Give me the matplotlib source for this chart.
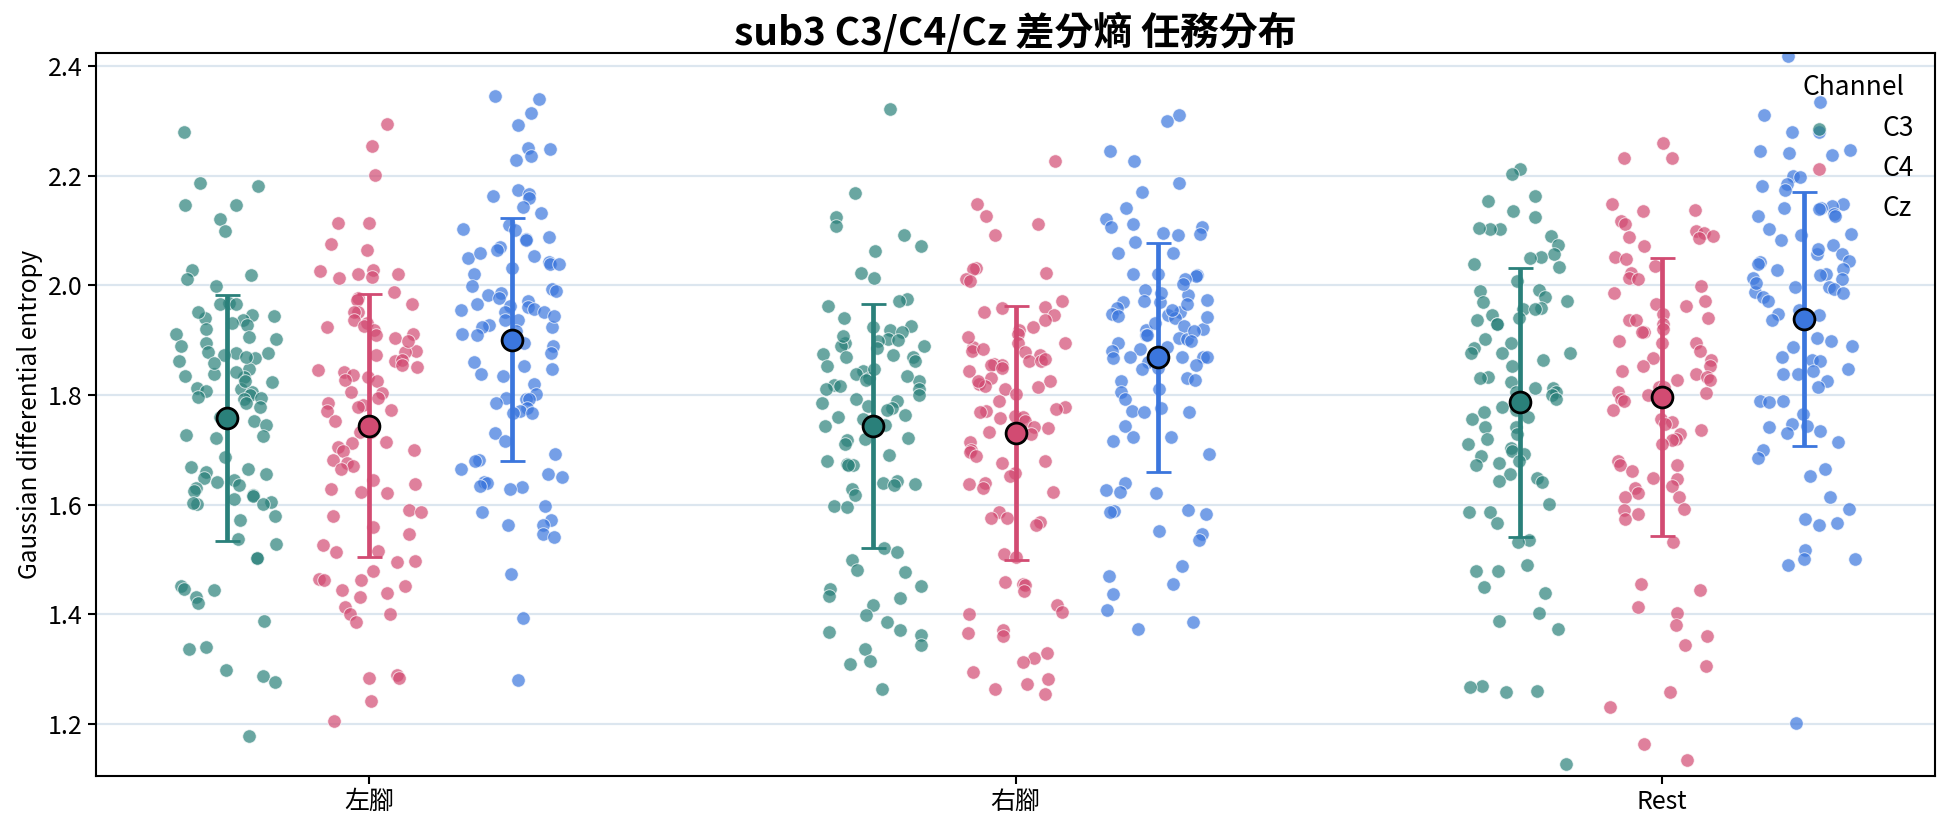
import numpy as np
import matplotlib.pyplot as plt

plt.rcParams['font.family'] = ['Noto Sans CJK TC', 'DejaVu Sans']

tasks = ['左腳', '右腳', 'Rest']
channels = ['C3', 'C4', 'Cz']
colors = {'C3': '#2a807a', 'C4': '#d24b72', 'Cz': '#3b76dd'}

# gaussian differential entropy per trial
left_c3 = [2.279, 2.187, 2.181, 2.146, 2.146, 2.120, 2.099, 2.028, 2.018, 2.011, 1.998, 1.967, 1.965, 1.965,
           1.946, 1.944, 1.940, 1.937, 1.927, 1.920, 1.912, 1.902, 1.895, 1.879, 1.877, 1.877, 1.873, 1.867,
           1.862, 1.848, 1.839, 1.835, 1.833, 1.823, 1.812, 1.810, 1.808, 1.806, 1.800, 1.797, 1.795, 1.793,
           1.785, 1.778, 1.760, 1.753, 1.745, 1.726, 1.725, 1.722, 1.686, 1.668, 1.664, 1.659, 1.655, 1.649,
           1.644, 1.641, 1.636, 1.630, 1.624, 1.618, 1.616, 1.611, 1.605, 1.601, 1.601, 1.603, 1.580, 1.572,
           1.538, 1.528, 1.503, 1.502, 1.452, 1.444, 1.446, 1.432, 1.421, 1.387, 1.337, 1.340, 1.298, 1.287,
           1.277, 1.177, 1.951, 1.932, 1.906, 1.889, 1.870, 1.858, 1.842, 1.826]
left_c4 = [2.294, 2.254, 2.202, 2.113, 2.113, 2.075, 2.064, 2.028, 2.021, 2.021, 2.026, 2.015, 2.013, 1.988,
           1.977, 1.973, 1.965, 1.952, 1.951, 1.936, 1.931, 1.923, 1.919, 1.912, 1.909, 1.904, 1.881, 1.879,
           1.862, 1.864, 1.854, 1.841, 1.833, 1.837, 1.828, 1.825, 1.806, 1.803, 1.795, 1.785, 1.781, 1.778,
           1.772, 1.771, 1.753, 1.733, 1.732, 1.714, 1.712, 1.705, 1.700, 1.697, 1.682, 1.676, 1.670, 1.664,
           1.644, 1.638, 1.628, 1.623, 1.622, 1.590, 1.587, 1.580, 1.559, 1.546, 1.527, 1.515, 1.513, 1.496,
           1.498, 1.479, 1.465, 1.463, 1.463, 1.452, 1.444, 1.438, 1.432, 1.413, 1.400, 1.400, 1.385, 1.290,
           1.283, 1.283, 1.241, 1.206, 1.926, 1.898, 1.872, 1.851, 1.846]
left_cz = [2.346, 2.339, 2.315, 2.293, 2.251, 2.249, 2.235, 2.228, 2.174, 2.166, 2.163, 2.160, 2.143, 2.131,
           2.110, 2.103, 2.100, 2.088, 2.085, 2.082, 2.069, 2.064, 2.053, 2.049, 2.043, 2.039, 2.038, 2.021,
           1.998, 1.994, 1.986, 1.982, 1.977, 1.971, 1.965, 1.962, 1.961, 1.956, 1.954, 1.952, 1.952, 1.936,
           1.936, 1.927, 1.923, 1.923, 1.917, 1.909, 1.895, 1.890, 1.877, 1.860, 1.852, 1.848, 1.839, 1.835,
           1.820, 1.802, 1.795, 1.792, 1.792, 1.785, 1.777, 1.770, 1.767, 1.767, 1.731, 1.716, 1.693, 1.682,
           1.680, 1.664, 1.655, 1.651, 1.641, 1.640, 1.634, 1.632, 1.628, 1.598, 1.586, 1.572, 1.563, 1.562,
           1.546, 1.540, 1.473, 1.394, 1.280, 2.058, 2.031, 1.990, 1.944, 1.912]
right_c3 = [2.322, 2.168, 2.124, 2.109, 2.092, 2.071, 2.063, 2.022, 2.013, 1.975, 1.971, 1.962, 1.940, 1.925,
            1.923, 1.919, 1.915, 1.902, 1.900, 1.898, 1.894, 1.890, 1.890, 1.875, 1.873, 1.869, 1.869, 1.852,
            1.844, 1.839, 1.831, 1.828, 1.825, 1.818, 1.810, 1.810, 1.800, 1.793, 1.789, 1.785, 1.780, 1.777,
            1.772, 1.764, 1.760, 1.756, 1.745, 1.743, 1.722, 1.720, 1.718, 1.711, 1.691, 1.680, 1.674, 1.672,
            1.672, 1.643, 1.640, 1.638, 1.636, 1.628, 1.618, 1.598, 1.595, 1.521, 1.513, 1.499, 1.480, 1.477,
            1.452, 1.446, 1.433, 1.429, 1.417, 1.398, 1.385, 1.371, 1.368, 1.362, 1.343, 1.337, 1.315, 1.310,
            1.264, 1.908, 1.886, 1.861, 1.848, 1.834, 1.816]
right_c4 = [2.227, 2.148, 2.126, 2.111, 2.091, 2.032, 2.029, 2.023, 2.011, 2.008, 1.971, 1.961, 1.959, 1.951,
            1.946, 1.936, 1.923, 1.919, 1.912, 1.894, 1.894, 1.887, 1.881, 1.879, 1.873, 1.862, 1.862, 1.856,
            1.854, 1.854, 1.850, 1.831, 1.825, 1.820, 1.817, 1.814, 1.810, 1.789, 1.778, 1.775, 1.771, 1.768,
            1.762, 1.760, 1.757, 1.753, 1.741, 1.739, 1.733, 1.728, 1.714, 1.700, 1.695, 1.689, 1.680, 1.676,
            1.657, 1.653, 1.640, 1.637, 1.630, 1.623, 1.586, 1.576, 1.576, 1.569, 1.563, 1.510, 1.505, 1.459,
            1.456, 1.454, 1.442, 1.417, 1.404, 1.400, 1.372, 1.365, 1.360, 1.329, 1.321, 1.312, 1.295, 1.281,
            1.273, 1.264, 1.255, 1.905, 1.884, 1.866, 1.843, 1.826, 1.802]
right_cz = [2.310, 2.300, 2.245, 2.227, 2.187, 2.170, 2.141, 2.120, 2.111, 2.107, 2.107, 2.096, 2.093, 2.092,
            2.078, 2.059, 2.059, 2.021, 2.021, 2.019, 2.017, 2.011, 1.992, 1.982, 1.973, 1.971, 1.969, 1.969,
            1.959, 1.951, 1.948, 1.946, 1.944, 1.940, 1.925, 1.920, 1.919, 1.910, 1.909, 1.904, 1.902, 1.895,
            1.884, 1.881, 1.870, 1.869, 1.870, 1.869, 1.867, 1.860, 1.854, 1.850, 1.848, 1.831, 1.827, 1.825,
            1.810, 1.806, 1.792, 1.777, 1.771, 1.768, 1.768, 1.743, 1.724, 1.724, 1.716, 1.693, 1.640, 1.623,
            1.622, 1.626, 1.591, 1.588, 1.586, 1.582, 1.551, 1.546, 1.536, 1.488, 1.469, 1.456, 1.436, 1.408,
            1.385, 1.373, 2.002, 1.985, 1.966, 1.955, 1.942, 1.932, 1.916, 1.899, 1.887]
rest_c3 = [2.212, 2.203, 2.162, 2.153, 2.135, 2.124, 2.103, 2.103, 2.105, 2.090, 2.074, 2.057, 2.051, 2.049,
           2.038, 2.034, 2.007, 1.992, 1.990, 1.979, 1.969, 1.971, 1.959, 1.956, 1.956, 1.946, 1.940, 1.936,
           1.929, 1.929, 1.902, 1.895, 1.885, 1.877, 1.877, 1.877, 1.864, 1.852, 1.833, 1.831, 1.823, 1.812,
           1.812, 1.806, 1.806, 1.800, 1.793, 1.778, 1.772, 1.768, 1.760, 1.756, 1.741, 1.741, 1.728, 1.720,
           1.711, 1.703, 1.697, 1.693, 1.689, 1.680, 1.676, 1.672, 1.655, 1.649, 1.643, 1.641, 1.601, 1.586,
           1.586, 1.567, 1.536, 1.532, 1.490, 1.479, 1.479, 1.450, 1.438, 1.402, 1.387, 1.373, 1.270, 1.268,
           1.259, 1.260, 1.126]
rest_c4 = [2.259, 2.233, 2.233, 2.149, 2.138, 2.135, 2.118, 2.111, 2.099, 2.096, 2.088, 2.090, 2.086, 2.071,
           2.051, 2.047, 2.036, 2.023, 2.013, 2.011, 1.998, 1.986, 1.971, 1.965, 1.962, 1.948, 1.940, 1.936,
           1.936, 1.929, 1.920, 1.915, 1.915, 1.898, 1.895, 1.894, 1.881, 1.867, 1.864, 1.852, 1.852, 1.844,
           1.839, 1.833, 1.828, 1.828, 1.814, 1.814, 1.806, 1.800, 1.803, 1.792, 1.789, 1.772, 1.756, 1.751,
           1.747, 1.736, 1.728, 1.720, 1.718, 1.711, 1.679, 1.672, 1.672, 1.661, 1.649, 1.647, 1.634, 1.630,
           1.622, 1.613, 1.613, 1.592, 1.590, 1.582, 1.573, 1.532, 1.456, 1.444, 1.413, 1.402, 1.380, 1.360,
           1.344, 1.306, 1.259, 1.231, 1.163, 1.134]
rest_cz = [2.419, 2.335, 2.310, 2.279, 2.279, 2.247, 2.245, 2.241, 2.238, 2.199, 2.197, 2.185, 2.181, 2.174,
           2.149, 2.145, 2.141, 2.141, 2.130, 2.126, 2.126, 2.103, 2.093, 2.082, 2.074, 2.057, 2.057, 2.043,
           2.044, 2.029, 2.028, 2.021, 2.013, 2.011, 1.996, 1.996, 1.994, 1.987, 1.986, 1.979, 1.971, 1.954,
           1.948, 1.946, 1.936, 1.904, 1.898, 1.890, 1.887, 1.870, 1.864, 1.862, 1.848, 1.844, 1.839, 1.839,
           1.825, 1.814, 1.789, 1.789, 1.787, 1.766, 1.747, 1.741, 1.743, 1.735, 1.731, 1.714, 1.700, 1.685,
           1.665, 1.653, 1.613, 1.592, 1.574, 1.567, 1.562, 1.517, 1.500, 1.500, 1.490, 1.201,
           2.092, 2.066, 2.038, 2.019, 2.004]

values = {
    ('左腳', 'C3'): left_c3, ('左腳', 'C4'): left_c4, ('左腳', 'Cz'): left_cz,
    ('右腳', 'C3'): right_c3, ('右腳', 'C4'): right_c4, ('右腳', 'Cz'): right_cz,
    ('Rest', 'C3'): rest_c3, ('Rest', 'C4'): rest_c4, ('Rest', 'Cz'): rest_cz,
}

offsets = {'C3': -0.22, 'C4': 0.0, 'Cz': 0.22}
rng = np.random.default_rng(3)

fig = plt.figure(figsize=(19.44, 8.27), dpi=100)
ax = fig.add_axes([0.0494, 0.0617, 0.9460, 0.8738])

for i, task in enumerate(tasks):
    for ch in channels:
        y = np.array(values[(task, ch)])
        x = i + offsets[ch] + rng.uniform(-0.08, 0.08, len(y))
        ax.scatter(x, y, s=95, color=colors[ch], alpha=0.7, edgecolors='white',
                   linewidths=0.7, zorder=2, label=ch if i == 0 else None)
        m = y.mean()
        sd = y.std(ddof=1)
        ax.errorbar(i + offsets[ch], m, yerr=sd, color=colors[ch], elinewidth=3.4,
                    capsize=9, capthick=2, zorder=4)
        ax.plot(i + offsets[ch], m, 'o', ms=15, mfc=colors[ch], mec='black',
                mew=2, zorder=5)

ax.set_xticks(range(len(tasks)))
ax.set_xticklabels(tasks)
ax.set_xlim(-0.423, 2.423)
ax.set_ylim(1.105, 2.423)
ax.set_yticks([1.2, 1.4, 1.6, 1.8, 2.0, 2.2, 2.4])
ax.yaxis.grid(True, color='#dce6ef', linewidth=1.6, zorder=0)
ax.set_axisbelow(True)
ax.tick_params(labelsize=18, length=6, width=1.5)
for sp in ax.spines.values():
    sp.set_linewidth(1.5)

ax.set_ylabel('Gaussian differential entropy', fontsize=17.5)
ax.set_title('sub3 C3/C4/Cz 差分熵 任務分布', fontsize=28, fontweight='bold', pad=5)
ax.legend(title='Channel', loc='upper right', frameon=False, fontsize=19,
          title_fontsize=19, labelspacing=0.5, handletextpad=1.4, borderaxespad=0.4)

fig.savefig('out.png', dpi=100)
